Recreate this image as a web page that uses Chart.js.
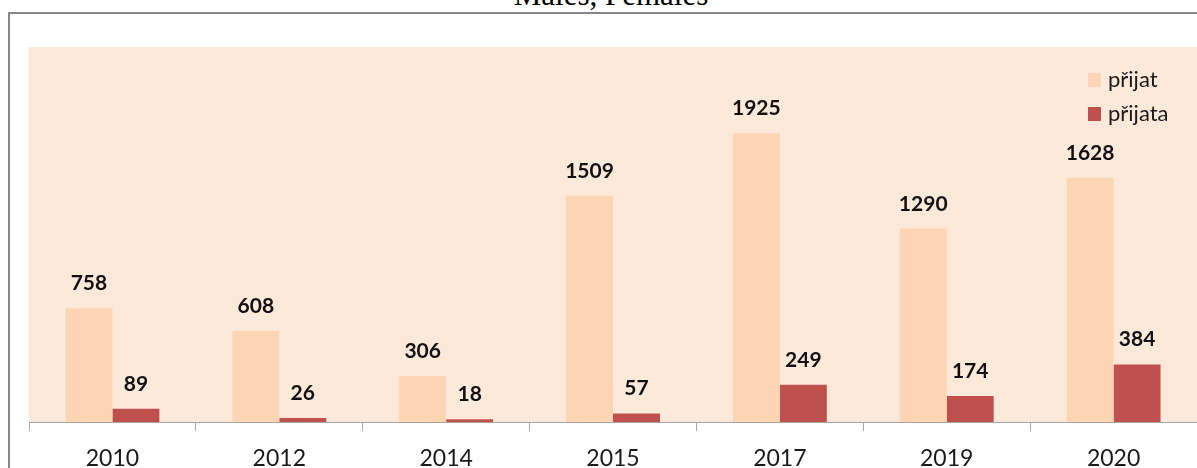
<!DOCTYPE html>
<html>
<head>
<meta charset="utf-8">
<script src="https://cdn.jsdelivr.net/npm/chart.js@4"></script>
<style>
  html, body { margin: 0; padding: 0; background: #fff; width: 1197px; height: 468px; overflow: hidden; }
  #wrap { position: relative; width: 1197px; height: 468px; }
  #frame { position: absolute; left: 8px; top: 12px; width: 1300px; height: 600px; border: 2px solid #878787; box-sizing: border-box; }
  #title { position: absolute; left: 0; width: 1222px; top: -23px; text-align: center; font-family: "Liberation Serif", "Times New Roman", serif; font-size: 31px; color: #000; line-height: 36px; }
  canvas { position: absolute; left: 0; top: 0; }
</style>
</head>
<body>
<div id="wrap">
  <div id="frame"></div>
  <div id="title">Males, Females</div>
  <canvas id="c" width="1197" height="468"></canvas>
</div>
<script>
const categories = ["2010", "2012", "2014", "2015", "2017", "2019", "2020"];
const seriesNames = ["přijat", "přijata"];
const prijat = [758, 608, 306, 1509, 1925, 1290, 1628];
const prijata = [89, 26, 18, 57, 249, 174, 384];
const colors = ["#FCD5B4", "#C0504D"];

const bgPlugin = {
  id: 'bg',
  beforeDraw(chart) {
    const { ctx, chartArea: a } = chart;
    ctx.save();
    ctx.fillStyle = '#FDE9DA';
    ctx.fillRect(a.left, a.top, a.right - a.left, a.bottom - a.top);
    ctx.restore();
  }
};

const labelPlugin = {
  id: 'vals',
  afterDatasetsDraw(chart) {
    const { ctx } = chart;
    ctx.save();
    ctx.font = 'bold 21px Lato, "Open Sans", sans-serif';
    ctx.fillStyle = '#111';
    ctx.textAlign = 'center';
    ctx.textBaseline = 'alphabetic';
    chart.data.datasets.forEach((ds, i) => {
      chart.getDatasetMeta(i).data.forEach((bar, j) => {
        ctx.fillText(String(ds.data[j]), bar.x, bar.y - 18);
      });
    });
    ctx.restore();
  }
};

const legendPlugin = {
  id: 'customLegend',
  afterDraw(chart) {
    const { ctx } = chart;
    ctx.save();
    ctx.font = '22px Lato, "Open Sans", sans-serif';
    ctx.textBaseline = 'middle';
    ctx.textAlign = 'left';
    chart.data.datasets.forEach((ds, i) => {
      const y = 73 + i * 34;
      ctx.fillStyle = ds.backgroundColor;
      ctx.fillRect(1088, y, 13, 14);
      ctx.fillStyle = '#1a1a1a';
      ctx.fillText(ds.label, 1108, y + 7);
    });
    ctx.restore();
  }
};

new Chart(document.getElementById('c'), {
  type: 'bar',
  data: {
    labels: categories,
    datasets: [
      { label: seriesNames[0], data: prijat, backgroundColor: colors[0] },
      { label: seriesNames[1], data: prijata, backgroundColor: colors[1] }
    ]
  },
  options: {
    responsive: false,
    animation: false,
    devicePixelRatio: 1,
    layout: { padding: { left: 29, top: 47, right: 0, bottom: 0 } },
    datasets: { bar: { categoryPercentage: 0.563, barPercentage: 1.0 } },
    plugins: { legend: { display: false }, title: { display: false }, tooltip: { enabled: false } },
    scales: {
      y: { display: false, min: 0, max: 2500 },
      x: {
        afterFit(scale) { scale.height = 46; },
        border: { display: true, color: '#A6A6A6', width: 1 },
        grid: { display: true, drawOnChartArea: false, drawTicks: true, tickLength: 9, color: '#A6A6A6', offset: true },
        ticks: { color: '#1a1a1a', padding: 14, font: { family: 'Lato, "Open Sans", sans-serif', size: 23 } }
      }
    }
  },
  plugins: [bgPlugin, labelPlugin, legendPlugin]
});
</script>
</body>
</html>
